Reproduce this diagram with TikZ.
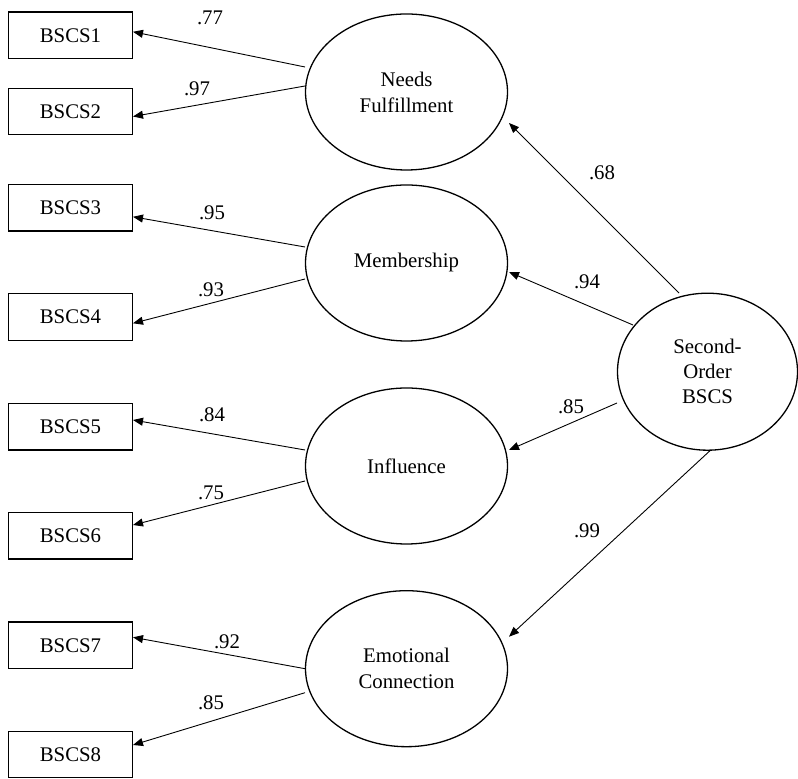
\documentclass[tikz,border=0pt]{standalone}
\usepackage{fontspec}
\setmainfont{Liberation Serif}
\usetikzlibrary{arrows.meta,calc,shapes.geometric}
\begin{document}
\begin{tikzpicture}[x=0.5pt,y=-0.5pt,
  every node/.style={font=\fontsize{10.4}{13}\selectfont},
  obs/.style={draw, line width=0.65pt, rectangle, minimum width=62pt, minimum height=23.3pt, inner sep=0pt},
  lat/.style={draw, line width=0.65pt, ellipse, minimum width=101pt, minimum height=78pt, inner sep=0pt, align=center},
  conn/.style={-{Triangle[length=5pt,width=4pt]}, line width=0.45pt},
  lbl/.style={inner sep=0pt}]
\useasboundingbox (0,0) rectangle (798,779);
% observed indicators
\node[obs] (b1) at (70.5,35.3) {BSCS1};
\node[obs] (b2) at (70.5,111.5) {BSCS2};
\node[obs] (b3) at (70.5,207.8) {BSCS3};
\node[obs] (b4) at (70.5,317) {BSCS4};
\node[obs] (b5) at (70.5,426.7) {BSCS5};
\node[obs] (b6) at (70.5,535.7) {BSCS6};
\node[obs] (b7) at (70.5,645.3) {BSCS7};
\node[obs] (b8) at (70.5,754.5) {BSCS8};
% first-order factors
\node[lat] (nf) at (406.5,92) {Needs\\Fulfillment};
\node[lat] (me) at (406.5,263) {Membership};
\node[lat] (in) at (406.5,466) {Influence};
\node[lat] (ec) at (406.5,668.7) {Emotional\\Connection};
% second-order factor
\node[lat, minimum width=90pt, minimum height=78.5pt, font=\fontsize{10.4}{12.5}\selectfont] (so) at (707.5,371.7) {Second-\\Order\\BSCS};
% loadings to indicators
\draw[conn] ($(nf.center)+(-101.5,-25)$) -- ($(b1.center)+(62.5,-3.5)$);
\draw[conn] ($(nf.center)+(-101.5,-6)$) -- ($(b2.center)+(62.5,5)$);
\draw[conn] ($(me.center)+(-101.5,-16)$) -- ($(b3.center)+(62.5,9)$);
\draw[conn] ($(me.center)+(-101.5,16)$) -- ($(b4.center)+(62.5,6.3)$);
\draw[conn] ($(in.center)+(-101.5,-16)$) -- ($(b5.center)+(62.5,-6.7)$);
\draw[conn] ($(in.center)+(-101.5,15)$) -- ($(b6.center)+(62.5,-10.7)$);
\draw[conn] ($(ec.center)+(-101.5,0)$) -- ($(b7.center)+(62.5,-8)$);
\draw[conn] ($(ec.center)+(-101.5,24)$) -- ($(b8.center)+(62.5,-9.5)$);
% second-order paths
\draw[conn] ($(so.center)+(-28.5,-78.7)$) -- ($(nf.center)+(102.5,31)$);
\draw[conn] ($(so.center)+(-74.5,-46.7)$) -- ($(me.center)+(102.5,9)$);
\draw[conn] ($(so.center)+(-90.5,31.3)$) -- ($(in.center)+(102.5,-16)$);
\draw[conn] ($(so.center)+(2.5,79)$) -- ($(ec.center)+(102.5,-32)$);
% labels
\node[lbl] (l1) at (210,18) {.77};
\node[lbl] (l2) at (197,89) {.97};
\node[lbl] (l3) at (212,213) {.95};
\node[lbl] (l4) at (211,290) {.93};
\node[lbl] (l5) at (212,415) {.84};
\node[lbl] (l6) at (211,493) {.75};
\node[lbl] (l7) at (227,642) {.92};
\node[lbl] (l8) at (211,703) {.85};
\node[lbl] (l9) at (602,173) {.68};
\node[lbl] (l10) at (587,282) {.94};
\node[lbl] (l11) at (571,407) {.85};
\node[lbl] (l12) at (587,531) {.99};
\end{tikzpicture}
\end{document}
